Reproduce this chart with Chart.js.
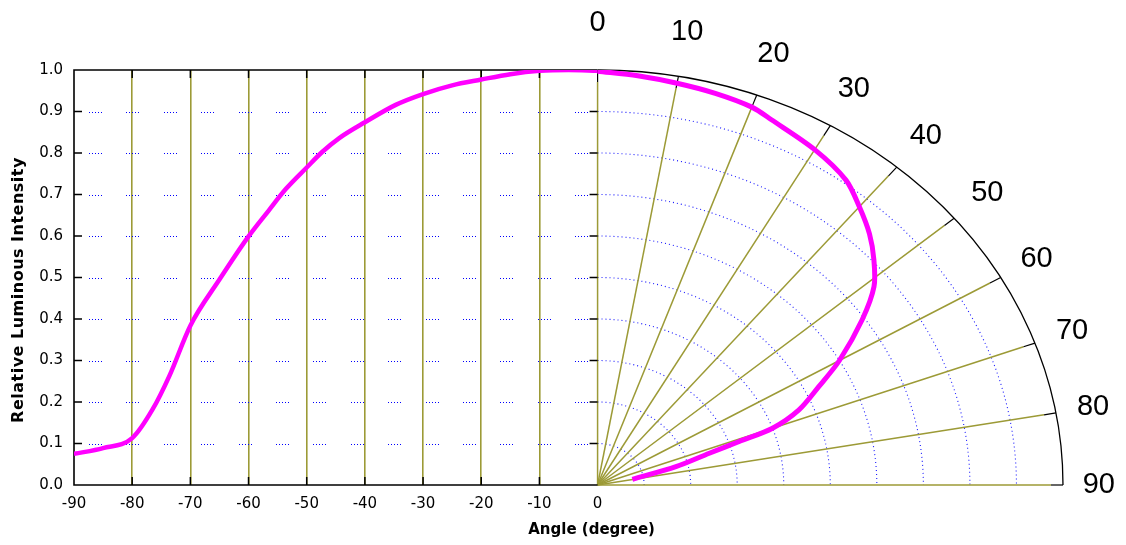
<!DOCTYPE html>
<html>
<head>
<meta charset="utf-8">
<script src="https://cdn.jsdelivr.net/npm/chart.js@4.4.1/dist/chart.umd.min.js"></script>
<style>
  html, body { margin: 0; padding: 0; background: #fff; }
  #wrap { width: 1126px; height: 545px; }
</style>
</head>
<body>
<div id="wrap"><canvas id="beamChart" width="1126" height="545"></canvas></div>
<script>
// tick labels
const xTickValues = [-90, -80, -70, -60, -50, -40, -30, -20, -10, 0];
const yTickValues = [0, 0.1, 0.2, 0.3, 0.4, 0.5, 0.6, 0.7, 0.8, 0.9, 1.0];
const polarTickAngles = [0, 10, 20, 30, 40, 50, 60, 70, 80, 90];
const polarRings = [0.1, 0.2, 0.3, 0.4, 0.5, 0.6, 0.7, 0.8, 0.9];

// left half: cartesian angle vs intensity
const leftAngles = [-90, -85, -80, -76.5, -73.6, -70, -65, -60, -56.5, -53.6, -50, -47.3, -44.4, -40, -34.7, -30, -25, -20, -15, -10, -5, 0];
const leftIntensity = [0.075, 0.089, 0.113, 0.182, 0.263, 0.384, 0.495, 0.599, 0.662, 0.713, 0.765, 0.803, 0.836, 0.874, 0.916, 0.942, 0.963, 0.977, 0.99, 0.998, 1.0, 0.998];

// right half: polar angle vs intensity
const polarAngles = [0, 5, 10, 15, 20, 23, 30, 36, 40, 44, 47.6, 51.2, 55, 60, 63.5, 67.3, 70, 71, 72.3, 75.3, 79.6];
const polarIntensity = [0.997, 0.99, 0.983, 0.977, 0.969, 0.956, 0.933, 0.908, 0.875, 0.841, 0.804, 0.762, 0.694, 0.6, 0.531, 0.469, 0.4, 0.322, 0.252, 0.174, 0.076];

// x units that stand for intensity 1.0 in the polar half
const X_SPAN = 80;

const olive = '#9c9a36';
const dotBlue = '#1a1aff';
const rad = d => d * Math.PI / 180;

const figurePlugin = {
    id: 'figure',
    beforeDatasetsDraw(chart) {
        const { ctx, chartArea: a, scales: { x, y } } = chart;
        const cx = x.getPixelForValue(0), cy = y.getPixelForValue(0);
        const rx = x.getPixelForValue(X_SPAN) - cx, ry = cy - y.getPixelForValue(1);
        ctx.save();

        // dotted rows in the left half
        ctx.fillStyle = '#0000ff';
        const period = (cx - a.left) / 14;
        yTickValues.forEach(v => {
            if (v <= 0 || v >= 1) return;
            const py = Math.round(y.getPixelForValue(v));
            for (let i = 0; i < 14; i++) {
                const x0 = a.left + 15 + i * period;
                for (let j = 0; j < 5; j++) ctx.fillRect(Math.round(x0 + j * 3), py, 1, 1);
            }
        });

        // dotted rings
        ctx.strokeStyle = dotBlue;
        ctx.lineWidth = 1.1;
        ctx.setLineDash([1, 3]);
        polarRings.forEach(r => {
            ctx.beginPath();
            ctx.ellipse(cx, cy, rx * r, ry * r, 0, -Math.PI / 2, 0);
            ctx.stroke();
        });
        ctx.setLineDash([]);

        // spokes with black tips
        polarTickAngles.forEach(deg => {
            const t = rad(deg);
            const ex = x.getPixelForValue(X_SPAN * Math.sin(t));
            const ey = y.getPixelForValue(Math.cos(t));
            const len = Math.hypot(ex - cx, ey - cy);
            const ux = (ex - cx) / len, uy = (ey - cy) / len;
            ctx.strokeStyle = olive;
            ctx.lineWidth = 1.5;
            ctx.beginPath();
            ctx.moveTo(cx, cy);
            ctx.lineTo(ex - ux * 12, ey - uy * 12);
            ctx.stroke();
            ctx.strokeStyle = '#000';
            ctx.lineWidth = 1.2;
            ctx.beginPath();
            ctx.moveTo(ex - ux * 12, ey - uy * 12);
            ctx.lineTo(ex, ey);
            ctx.stroke();
        });

        // outer arc
        ctx.strokeStyle = '#000';
        ctx.lineWidth = 1.3;
        ctx.beginPath();
        ctx.ellipse(cx, cy, rx, ry, 0, -Math.PI / 2, 0);
        ctx.stroke();

        // frame of the left half
        ctx.lineWidth = 1.6;
        ctx.beginPath();
        ctx.moveTo(cx, a.top); ctx.lineTo(a.left, a.top);
        ctx.lineTo(a.left, a.bottom); ctx.lineTo(cx, a.bottom);
        ctx.stroke();

        // inward tick marks
        ctx.lineWidth = 1.5;
        ctx.beginPath();
        xTickValues.forEach(v => {
            if (v <= -90 || v >= 0) return;
            const px = x.getPixelForValue(v);
            ctx.moveTo(px, a.bottom); ctx.lineTo(px, a.bottom - 8);
            ctx.moveTo(px, a.top); ctx.lineTo(px, a.top + 8);
        });
        yTickValues.forEach(v => {
            if (v <= 0 || v >= 1) return;
            const py = y.getPixelForValue(v);
            ctx.moveTo(a.left, py); ctx.lineTo(a.left + 8, py);
            ctx.moveTo(cx, py); ctx.lineTo(cx - 8, py);
        });
        ctx.stroke();

        // angle labels round the arc
        ctx.fillStyle = '#000';
        ctx.font = '29px "Liberation Sans", Arial, sans-serif';
        ctx.textAlign = 'center';
        ctx.textBaseline = 'middle';
        polarTickAngles.forEach(deg => {
            const t = rad(deg);
            const rl = 1.113 - 0.036 * deg / 90;
            ctx.fillText(String(deg), x.getPixelForValue(X_SPAN * rl * Math.sin(t)), y.getPixelForValue(rl * Math.cos(t)));
        });

        // axis titles
        ctx.font = 'bold 15px "DejaVu Sans", sans-serif';
        ctx.fillText('Angle (degree)', cx - 6, 530);
        ctx.translate(19, 290);
        ctx.rotate(-Math.PI / 2);
        ctx.font = 'bold 16px "DejaVu Sans", sans-serif';
        ctx.letterSpacing = '0.5px';
        ctx.fillText('Relative Luminous Intensity', 0, 0);
        ctx.restore();
    }
};

const ctx = document.getElementById('beamChart').getContext('2d');

const beamChart = new Chart(ctx, {
    type: 'scatter',
    data: {
        datasets: [{
            label: 'left',
            data: leftAngles.map((a, i) => ({ x: a, y: leftIntensity[i] })),
            showLine: true,
            borderColor: '#ff00ff',
            borderWidth: 4.5,
            pointRadius: 0,
            cubicInterpolationMode: 'monotone'
        }, {
            label: 'polar',
            data: polarAngles.map((a, i) => ({
                x: X_SPAN * polarIntensity[i] * Math.sin(rad(a)),
                y: polarIntensity[i] * Math.cos(rad(a))
            })),
            showLine: true,
            borderColor: '#ff00ff',
            borderWidth: 5,
            pointRadius: 0,
            tension: 0.3
        }]
    },
    options: {
        responsive: false,
        animation: false,
        devicePixelRatio: 1,
        layout: { padding: { top: 70, right: 63, left: 0, bottom: 0 } },
        scales: {
            x: {
                type: 'linear',
                min: -90,
                max: X_SPAN,
                afterBuildTicks: s => { s.ticks = xTickValues.map(v => ({ value: v })); },
                afterFit: s => { s.height = 60; },
                ticks: {
                    color: '#000',
                    font: { family: 'DejaVu Sans', size: 15 },
                    padding: 10,
                    maxRotation: 0,
                    autoSkip: false,
                    callback: v => String(v)
                },
                grid: {
                    color: c => (c.tick && c.tick.value > -90 && c.tick.value < 0) ? olive : 'rgba(0,0,0,0)',
                    lineWidth: 1.6,
                    drawTicks: false
                },
                border: { display: false }
            },
            y: {
                min: 0,
                max: 1,
                afterBuildTicks: s => { s.ticks = yTickValues.map(v => ({ value: v })); },
                afterFit: s => { s.width = 74; },
                ticks: {
                    color: '#000',
                    font: { family: 'DejaVu Sans', size: 15 },
                    padding: 11,
                    callback: v => v.toFixed(1)
                },
                grid: { display: false, drawTicks: false },
                border: { display: false }
            }
        },
        plugins: {
            legend: { display: false },
            tooltip: { enabled: false }
        }
    },
    plugins: [figurePlugin]
});
</script>
</body>
</html>
